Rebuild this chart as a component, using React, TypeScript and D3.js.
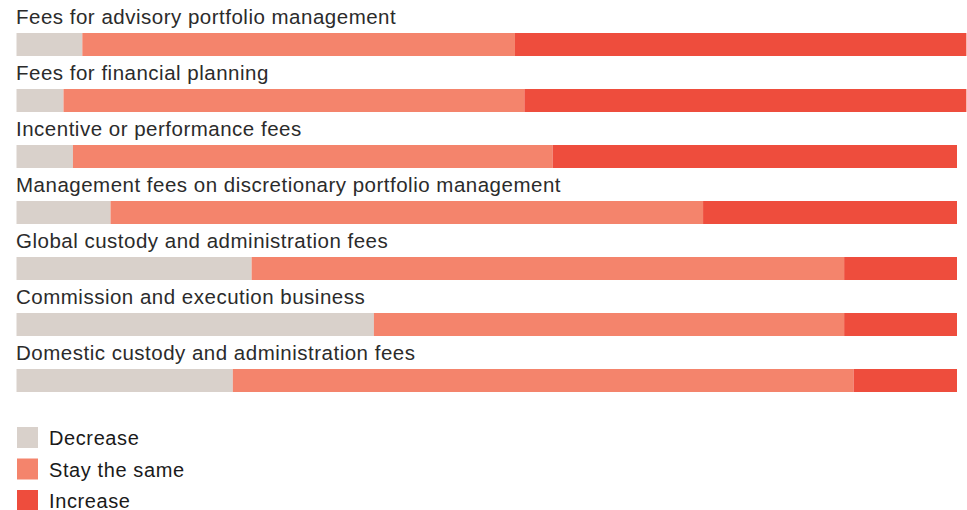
import * as d3 from "d3";

const categories = [
  "Fees for advisory portfolio management",
  "Fees for financial planning",
  "Incentive or performance fees",
  "Management fees on discretionary portfolio management",
  "Global custody and administration fees",
  "Commission and execution business",
  "Domestic custody and administration fees",
];

const seriesNames = ["Decrease", "Stay the same", "Increase"];
const decrease = [7, 5, 6, 10, 25, 38, 23];
const staySame = [46, 49, 51, 63, 63, 50, 66];
const increase = [48, 47, 43, 27, 12, 12, 11];

const colors = ["#d9d1cb", "#f4846c", "#ee4d3d"];

const width = 967;
const height = 510;
const font = "'Liberation Sans', Arial, Helvetica, sans-serif";

export default function App() {
  const rows = categories.map((c, i) => ({
    category: c,
    Decrease: decrease[i],
    "Stay the same": staySame[i],
    Increase: increase[i],
  }));

  const stack = d3.stack<any>().keys(seriesNames);
  const series = stack(rows);

  const x = d3.scaleLinear().domain([0, 100]).range([16.5, 957]);
  const y = d3
    .scaleBand<string>()
    .domain(categories)
    .range([33, 33 + 56 * categories.length])
    .padding(0);
  const barH = 23;

  const legendY = d3
    .scalePoint<string>()
    .domain(seriesNames)
    .range([427, 490]);

  return (
    <svg
      width={width}
      height={height}
      style={{ position: "absolute", left: 0, top: 0 }}
      fontFamily={font}
    >
      {categories.map((c) => (
        <text
          key={c}
          x={16}
          y={(y(c) as number) - 9}
          fontSize={20.5}
          letterSpacing={0.5}
          fill="#2b2b2b"
        >
          {c}
        </text>
      ))}
      {series.map((s, si) => (
        <g key={s.key} fill={colors[si]}>
          {s.map((d, i) => (
            <rect
              key={i}
              x={x(d[0])}
              y={y(categories[i]) as number}
              width={x(d[1]) - x(d[0])}
              height={barH}
            />
          ))}
        </g>
      ))}
      {seriesNames.map((n, i) => (
        <g key={n} transform={`translate(17,${legendY(n)})`}>
          <rect width={21} height={21} fill={colors[i]} />
          <text x={32} y={18} fontSize={20} letterSpacing={0.6} fill="#1a1a1a">
            {n}
          </text>
        </g>
      ))}
    </svg>
  );
}
